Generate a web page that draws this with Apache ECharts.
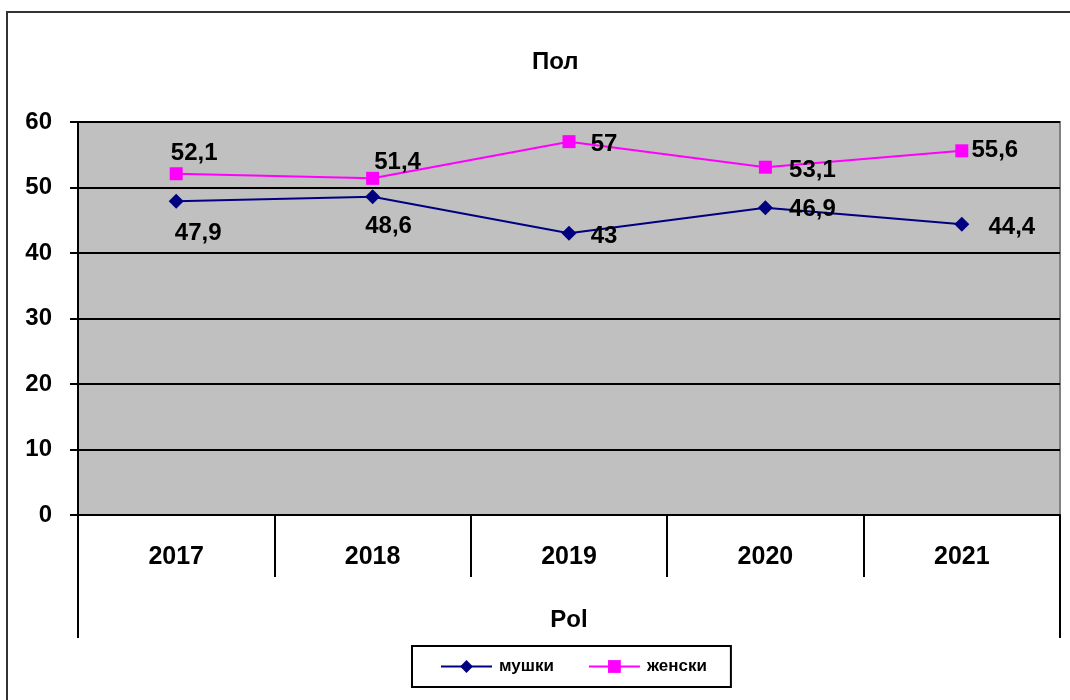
<!DOCTYPE html>
<html>
<head>
<meta charset="utf-8">
<script src="https://cdn.jsdelivr.net/npm/echarts@6/dist/echarts.min.js"></script>
<style>
html,body{margin:0;padding:0;background:#fff;}
#chart{width:1070px;height:700px;}
</style>
</head>
<body>
<div id="chart"></div>
<script>
// ---- data ----
var titleText = 'Пол';
var years = ['2017', '2018', '2019', '2020', '2021'];
var outerCategory = ['Pol'];
var seriesNames = ['мушки', 'женски'];
var male = [47.9, 48.6, 43, 46.9, 44.4];
var female = [52.1, 51.4, 57, 53.1, 55.6];
var yTicks = [0, 10, 20, 30, 40, 50, 60];

// ---- label placement (style, not data) ----
var maleLabelOffsets = [[22, 32], [16, 30], [35, 3], [47, 2], [50, 3]];
var femaleLabelOffsets = [[18, -20], [25, -16], [35, 3], [47, 3], [33, 0]];

var FONT = '"Liberation Sans", Arial, sans-serif';

function fmt(v) { return String(v).replace('.', ','); }

function buildData(values, offsets) {
  return values.map(function (v, i) {
    return { value: v, label: { offset: offsets[i] } };
  });
}

var chart = echarts.init(document.getElementById('chart'), null, { renderer: 'canvas' });

var option = {
  backgroundColor: '#ffffff',
  animation: false,
  title: {
    text: titleText,
    left: 527,
    top: 45,
    textStyle: { fontFamily: FONT, fontWeight: 'bold', fontSize: 24, color: '#000' }
  },
  graphic: [{
    type: 'rect',
    z: -10,
    shape: { x: 7, y: 12, width: 1100, height: 800 },
    style: { fill: null, stroke: '#333', lineWidth: 2 }
  }],
  legend: {
    left: 412,
    top: 646,
    padding: [12, 24, 12, 28],
    itemGap: 34,
    itemWidth: 51,
    itemHeight: 16,
    borderColor: '#000',
    borderWidth: 2,
    backgroundColor: '#fff',
    textStyle: { fontFamily: FONT, fontWeight: 'bold', fontSize: 17, color: '#000', padding: [0, 0, 0, 2] },
    data: seriesNames
  },
  grid: {
    left: 78,
    right: 10,
    top: 122,
    bottom: 185,
    show: true,
    backgroundColor: '#C0C0C0',
    borderColor: '#808080',
    borderWidth: 2
  },
  xAxis: [{
    type: 'category',
    data: years,
    boundaryGap: true,
    position: 'bottom',
    axisLine: { show: true, lineStyle: { color: '#000', width: 2 } },
    axisTick: { show: true, length: 62, lineStyle: { color: '#000', width: 2 } },
    axisLabel: { margin: 30, fontFamily: FONT, fontWeight: 'bold', fontSize: 25, color: '#000' },
    splitLine: { show: false }
  }, {
    type: 'category',
    data: outerCategory,
    boundaryGap: true,
    position: 'bottom',
    axisLine: { show: false },
    axisTick: { show: true, length: 123, lineStyle: { color: '#000', width: 2 } },
    axisLabel: { margin: 93, fontFamily: FONT, fontWeight: 'bold', fontSize: 24, color: '#000' },
    splitLine: { show: false }
  }],
  yAxis: {
    type: 'value',
    min: yTicks[0],
    max: yTicks[yTicks.length - 1],
    interval: yTicks[1] - yTicks[0],
    axisLine: { show: true, lineStyle: { color: '#000', width: 2 } },
    axisTick: { show: true, length: 8, lineStyle: { color: '#000', width: 2 } },
    axisLabel: { margin: 26, fontFamily: FONT, fontWeight: 'bold', fontSize: 24, color: '#000' },
    splitLine: { show: true, lineStyle: { color: '#000', width: 2 } }
  },
  series: [{
    name: seriesNames[0],
    type: 'line',
    xAxisIndex: 0,
    data: buildData(male, maleLabelOffsets),
    symbol: 'diamond',
    symbolSize: 15,
    itemStyle: { color: '#000080' },
    lineStyle: { color: '#000080', width: 2 },
    label: {
      show: true,
      position: 'inside',
      formatter: function (p) { return fmt(p.value); },
      fontFamily: FONT, fontWeight: 'bold', fontSize: 24, color: '#000'
    },
    z: 3
  }, {
    name: seriesNames[1],
    type: 'line',
    xAxisIndex: 0,
    data: buildData(female, femaleLabelOffsets),
    symbol: 'rect',
    symbolSize: 13,
    itemStyle: { color: '#FF00FF' },
    lineStyle: { color: '#FF00FF', width: 2 },
    label: {
      show: true,
      position: 'inside',
      formatter: function (p) { return fmt(p.value); },
      fontFamily: FONT, fontWeight: 'bold', fontSize: 24, color: '#000'
    },
    z: 3
  }]
};

chart.setOption(option);
</script>
</body>
</html>
